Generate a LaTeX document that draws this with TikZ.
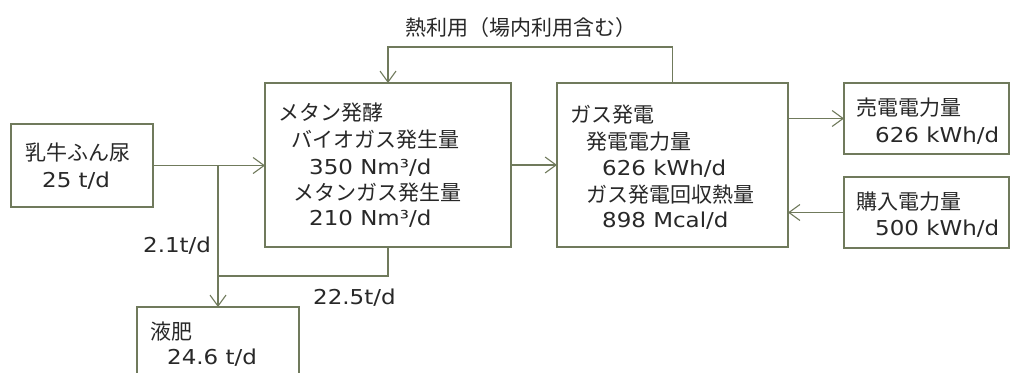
\documentclass[tikz,border=0pt]{standalone}
\usepackage{fontspec}
\setmainfont[FakeStretch=1.12]{DejaVu Sans}
\newfontfamily\jpf{Noto Sans CJK JP}
\newcommand\jp{\jpf\fontsize{21}{24}\selectfont}
\usetikzlibrary{arrows.meta}
\definecolor{ln}{RGB}{112,122,92}
\definecolor{tx}{RGB}{40,40,40}
\tikzset{
  box/.style={draw=ln, line width=1.1pt, rectangle, inner sep=0pt, outer sep=0pt, fill=white},
  lbl/.style={anchor=base west, inner sep=0pt, text=tx, font=\fontsize{20.5}{24}\selectfont},
  conn/.style={draw=ln, line width=1.1pt},
  arr/.style={conn, -{Straight Barb[length=11pt,width=16pt,line width=1.1pt]}}
}
\begin{document}
\begin{tikzpicture}[x=1pt,y=-1pt]
\useasboundingbox[fill=white] (0,0) rectangle (1011,372);
% boxes
\node[box, minimum width=142pt, minimum height=83pt] (cow) at (82,165.5) {};
\node[box, minimum width=246pt, minimum height=164pt] (meth) at (388,165) {};
\node[box, minimum width=231pt, minimum height=164pt] (gas) at (672.5,165) {};
\node[box, minimum width=165pt, minimum height=71pt] (sell) at (926.5,118.5) {};
\node[box, minimum width=165pt, minimum height=71pt] (buy) at (926.5,212.5) {};
\node[box, minimum width=162pt, minimum height=80pt] (fert) at (218,347) {};
% labels
\node[lbl] (t1) at (25,160) {\jp 乳牛ふん尿};
\node[lbl] (t2) at (42,187) {25 t/d};
\node[lbl] (m1) at (278,120) {\jp メタン発酵};
\node[lbl] (m2) at (291,147) {\jp バイオガス発生量};
\node[lbl] (m3) at (309,174) {350 Nm³/d};
\node[lbl] (m4) at (293,200) {\jp メタンガス発生量};
\node[lbl] (m5) at (309,225) {210 Nm³/d};
\node[lbl] (g1) at (570,122) {\jp ガス発電};
\node[lbl] (g2) at (586,149) {\jp 発電電力量};
\node[lbl] (g3) at (602,175) {626 kWh/d};
\node[lbl] (g4) at (586,202) {\jp ガス発電回収熱量};
\node[lbl] (g5) at (602,227) {898 Mcal/d};
\node[lbl] (s1) at (856,115) {\jp 売電電力量};
\node[lbl] (s2) at (875,142) {626 kWh/d};
\node[lbl] (b1) at (856,209) {\jp 購入電力量};
\node[lbl] (b2) at (875,235) {500 kWh/d};
\node[lbl] (f1) at (150,339) {\jp 液肥};
\node[lbl] (f2) at (167,364) {24.6 t/d};
\node[lbl] (l1) at (143,252) {2.1t/d};
\node[lbl] (l2) at (313,304) {22.5t/d};
\node[lbl] (heat) at (405,35) {\jp 熱利用（場内利用含む）};
% connectors
\coordinate (j1) at (218,165.5);
\coordinate (j2) at (218,276);
\coordinate (top) at (388,47);
\coordinate (gs) at (gas.east |- sell.west);
\coordinate (gb) at (gas.east |- buy.west);
\draw[arr] (cow.east) -- (cow.east -| meth.west);
\draw[arr] (j1) -- (fert.north);
\draw[conn] (meth.south) |- (j2);
\draw[arr] (gas.north) |- (top) -- (meth.north);
\draw[arr] (meth.east) -- (gas.west);
\draw[arr] (gs) -- (sell.west);
\draw[arr] (buy.west) -- (gb);
\end{tikzpicture}
\end{document}
